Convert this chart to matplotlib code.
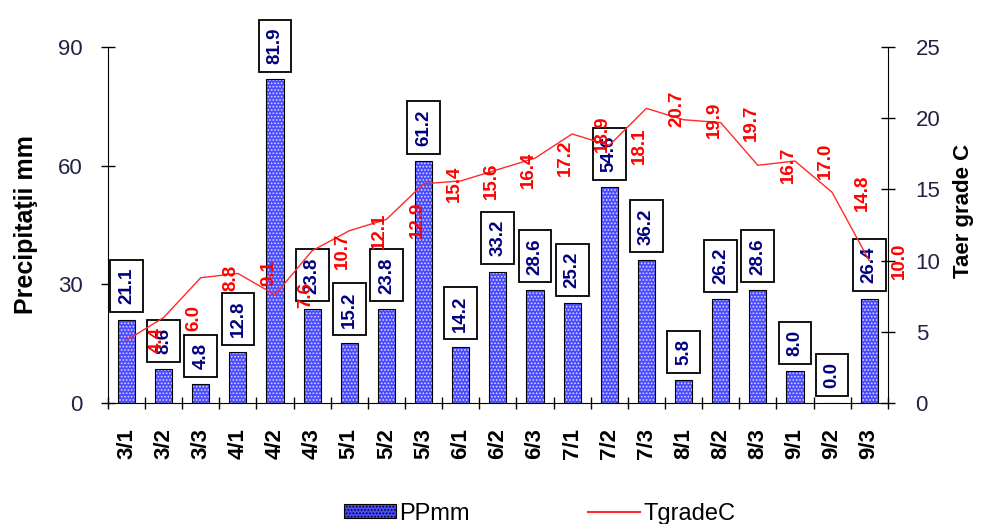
import numpy as np
import matplotlib.pyplot as plt
from matplotlib.patches import Patch
from matplotlib.lines import Line2D

plt.rcParams['font.family'] = ['Liberation Sans', 'DejaVu Sans']

# decade labels (month/decade)
decade = ['3/1', '3/2', '3/3', '4/1', '4/2', '4/3', '5/1', '5/2', '5/3',
          '6/1', '6/2', '6/3', '7/1', '7/2', '7/3', '8/1', '8/2', '8/3',
          '9/1', '9/2', '9/3']
pp_mm = [21.1, 8.6, 4.8, 12.8, 81.9, 23.8, 15.2, 23.8, 61.2, 14.2, 33.2,
         28.6, 25.2, 54.6, 36.2, 5.8, 26.2, 28.6, 8.0, 0.0, 26.4]
t_grade = [4.4, 6.0, 8.8, 9.1, 7.6, 10.7, 12.1, 12.9, 15.4, 15.6, 16.4,
           17.2, 18.9, 18.1, 20.7, 19.9, 19.7, 16.7, 17.0, 14.8, 10.0]

x = np.arange(len(decade))

fig = plt.figure(figsize=(9.81, 5.24), dpi=100)
ax = fig.add_axes([0.110, 0.231, 0.795, 0.679])
ax2 = ax.twinx()

# bars: blue with white dot pattern, then black outline
plt.rcParams['hatch.linewidth'] = 0.8
ax.bar(x, pp_mm, width=0.46, color='#4a4aff', edgecolor='#d8d8ff',
       hatch='.....', linewidth=0, zorder=2)
ax.bar(x, pp_mm, width=0.46, fill=False, edgecolor='black',
       linewidth=0.8, zorder=3)

for xi, v in zip(x, pp_mm):
    ax.annotate(f'{v:.1f}', (xi, v), xytext=(0, 11), textcoords='offset points',
                rotation=90, ha='center', va='bottom', fontsize=13.5,
                fontweight='bold', color='#000080', zorder=5,
                bbox=dict(boxstyle='square,pad=0.42', fc='white', ec='black', lw=1.3))

ax2.plot(x, t_grade, color='#ff2a2a', lw=1.0, zorder=4)
for xi, v in zip(x, t_grade):
    ax2.annotate(f'{v:.1f}', (xi, v), xytext=(22, 0), textcoords='offset points',
                 rotation=90, ha='center', va='center', fontsize=13.5,
                 fontweight='bold', color='red', zorder=6,
                 annotation_clip=False)

ax.set_xlim(-0.5, len(decade) - 0.5)
ax.set_ylim(0, 90)
ax2.set_ylim(0, 25)
ax.set_yticks([0, 30, 60, 90])
ax2.set_yticks([0, 5, 10, 15, 20, 25])

ax.set_xticks(x)
ax.set_xticklabels(decade, rotation=90, fontsize=16, fontweight='bold')
ax.set_xticks(np.arange(-0.5, len(decade)), minor=True)
ax.tick_params(axis='x', which='major', length=0, pad=18)
ax.tick_params(axis='x', which='minor', length=9, direction='inout', width=1)
ax.tick_params(axis='y', length=10, direction='inout', width=1, labelsize=16,
               pad=13)
ax2.tick_params(axis='y', length=10, direction='inout', width=1, labelsize=16,
                pad=15)
for t in ax.get_yticklabels() + ax2.get_yticklabels():
    t.set_color('#222244')

ax.spines['top'].set_visible(False)
ax2.spines['top'].set_visible(False)
ax.spines['right'].set_visible(False)
ax2.spines['left'].set_visible(False)
ax2.spines['bottom'].set_visible(False)
ax.patch.set_visible(False)
ax2.patch.set_visible(False)

ax.set_ylabel('Precipitaţii mm', fontsize=18, fontweight='bold')
ax.yaxis.set_label_coords(-0.09, 0.5)
ax2.set_ylabel('Taer grade C', fontsize=16, fontweight='bold')
ax2.yaxis.set_label_coords(1.083, 0.54)

handles = [Patch(facecolor='#4a4aff', edgecolor='black', hatch='.....', lw=0.8),
           Line2D([0], [0], color='#ff2a2a', lw=1.5)]
fig.legend(handles, ['PPmm', 'TgradeC'], loc='center', ncol=2,
           bbox_to_anchor=(0.55, 0.02), frameon=False, fontsize=17,
           handlelength=2.2, handleheight=0.5, columnspacing=5.0,
           handletextpad=0.15)

fig.savefig('out.png', dpi=100)
